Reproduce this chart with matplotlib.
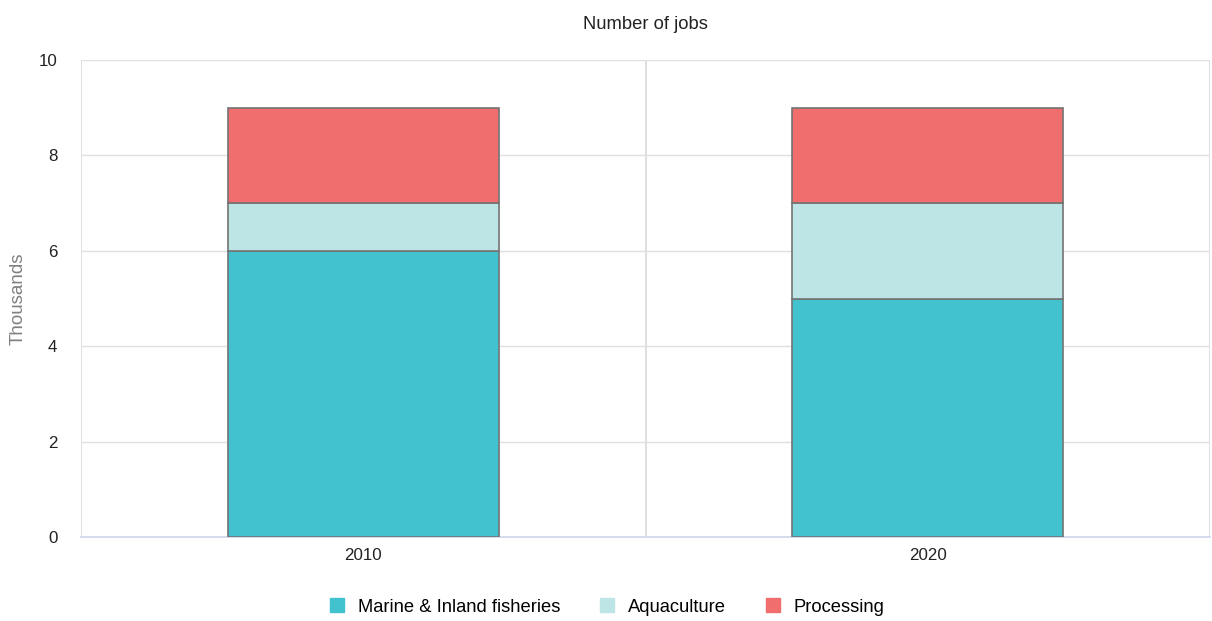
import matplotlib
matplotlib.use("Agg")
import matplotlib.pyplot as plt
from matplotlib.lines import Line2D

categories = ["2010", "2020"]
marine = [6, 5]
aquaculture = [1, 2]
processing = [2, 2]
series_names = ["Marine & Inland fisheries", "Aquaculture", "Processing"]
colors = ["#42c1cf", "#bde5e5", "#f06e6e"]
yticks = [0, 2, 4, 6, 8, 10]

plt.rcParams['font.family'] = ['Liberation Sans', 'DejaVu Sans']

fig = plt.figure(figsize=(12.12, 6.21), dpi=100)
ax = fig.add_axes([81/1212, 84/621, (1210-81)/1212, (537-60)/621])

x = list(range(len(categories)))
bottoms = [0]*len(categories)
for vals, col, name in zip([marine, aquaculture, processing], colors, series_names):
    ax.bar(x, vals, width=0.48, bottom=bottoms, color=col, edgecolor="#737373",
           linewidth=1.2, label=name, zorder=3)
    bottoms = [b + v for b, v in zip(bottoms, vals)]

ax.set_xlim(-0.5, len(categories) - 0.5)
ax.set_ylim(0, 10)
ax.set_yticks(yticks)
ax.set_yticklabels([str(t) for t in yticks])
ax.set_xticks(x)
ax.set_xticklabels(categories)
ax.yaxis.grid(True, color="#e0e0e0", linewidth=1, zorder=0)
for xv in [-0.5 + i for i in range(len(categories) + 1)]:
    ax.axvline(xv, color="#d9d9d9", linewidth=1.2, zorder=1)

for s in ["top", "right", "left"]:
    ax.spines[s].set_visible(False)
ax.spines["bottom"].set_color("#ccd6eb")
ax.spines["bottom"].set_linewidth(1.2)
ax.tick_params(axis="both", length=0, labelsize=12.2, colors="#222222")
ax.tick_params(axis="y", pad=17)
ax.tick_params(axis="x", pad=8)
ax.set_ylabel("Thousands", color="#808080", fontsize=13.5, labelpad=9)
ax.set_title("Number of jobs", fontsize=13.2, color="#222222", pad=22)

handles = [Line2D([0], [0], marker="s", linestyle="", markersize=10,
                  markerfacecolor=c, markeredgecolor=c) for c in colors]
fig.legend(handles, series_names, loc="center", bbox_to_anchor=(0.5, 1 - 607/621),
           ncol=3, frameon=False, fontsize=13.2, handlelength=1.0,
           handletextpad=0.65, columnspacing=2.05)

fig.savefig("out.png", dpi=100)
